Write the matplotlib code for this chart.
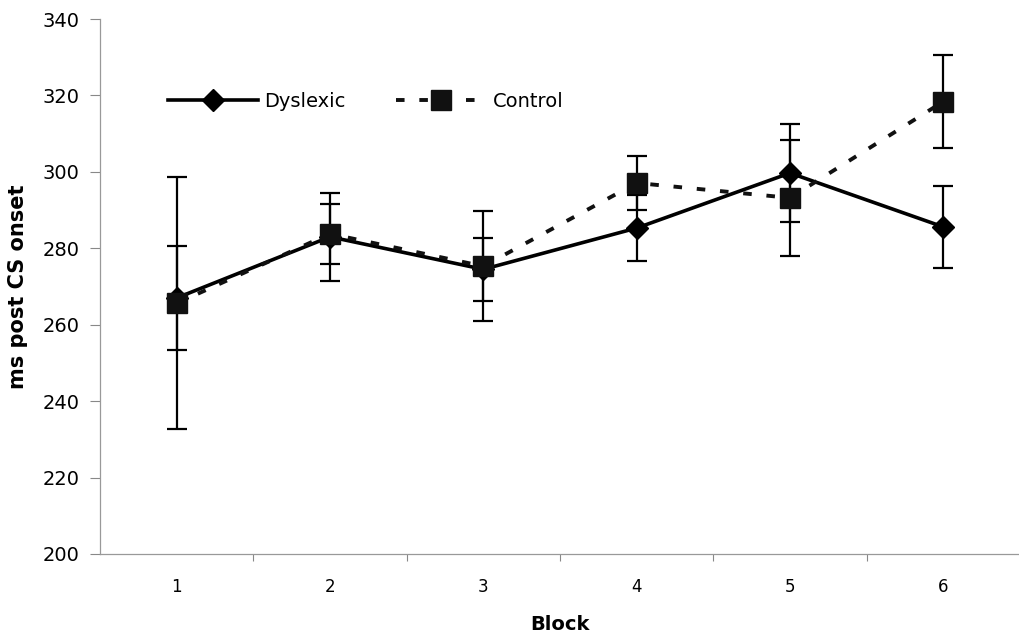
import numpy as np
import matplotlib
matplotlib.use("Agg")
import matplotlib.pyplot as plt
from matplotlib.lines import Line2D

# data
blocks = [1, 2, 3, 4, 5, 6]
dyslexic = [267.0, 283.0, 274.5, 285.3, 299.7, 285.6]
dyslexic_err = [13.7, 11.5, 8.3, 8.6, 12.9, 10.8]
control = [265.6, 283.8, 275.3, 297.1, 293.2, 318.4]
control_err = [33.0, 7.8, 14.4, 7.1, 15.1, 12.2]
y_ticks = [200, 220, 240, 260, 280, 300, 320, 340]

plt.rcParams['font.family'] = ['DejaVu Sans']

fig = plt.figure(figsize=(10.2, 6.35), dpi=100)
ax = fig.add_axes([0.098, 0.1276, 0.902, 0.8424])

# Dyslexic: solid line, diamonds
ax.errorbar(blocks, dyslexic, yerr=dyslexic_err, color='black', lw=2.6,
            marker='D', ms=11, elinewidth=1.6, ecolor='black', capsize=7,
            capthick=1.6, zorder=3)
# Control: dashed line, squares
ln = ax.errorbar(blocks, control, yerr=control_err, color='#111111', lw=2.8,
                 marker='s', ms=14, elinewidth=1.6, ecolor='black', capsize=7,
                 capthick=1.6, zorder=4)
ln[0].set_dashes((2.2, 3.8))

ax.set_xlim(0.5, 6.5)
ax.set_ylim(200, 340)
ax.set_yticks(y_ticks)
ax.set_xticks(blocks)
ax.set_xticks(np.arange(1.5, 6.5, 1.0), minor=True)
ax.tick_params(axis='x', which='major', length=0, labelsize=12, pad=17)
ax.tick_params(axis='x', which='minor', length=5, color='#888888', width=0.8)
ax.tick_params(axis='y', length=7, color='#888888', width=0.8, labelsize=14, pad=8)

for s in ['top', 'right']:
    ax.spines[s].set_visible(False)
for s in ['left', 'bottom']:
    ax.spines[s].set_color('#999999')
    ax.spines[s].set_linewidth(0.9)

ax.set_xlabel('Block', fontsize=14, fontweight='bold', labelpad=14)
ax.set_ylabel('ms post CS onset', fontsize=15, fontweight='bold', labelpad=10)

h_dys = Line2D([], [], color='black', lw=2.6, marker='D', ms=11)
h_ctl = Line2D([], [], color='#111111', lw=2.8, marker='s', ms=14, dashes=(2.2, 3.8))
ax.legend([h_dys, h_ctl], ['Dyslexic', 'Control'], loc='upper left',
          bbox_to_anchor=(0.055, 0.897), ncol=2, frameon=False, fontsize=14,
          handlelength=4.6, handletextpad=0.35, columnspacing=2.6)

fig.savefig('out.png', dpi=100)
